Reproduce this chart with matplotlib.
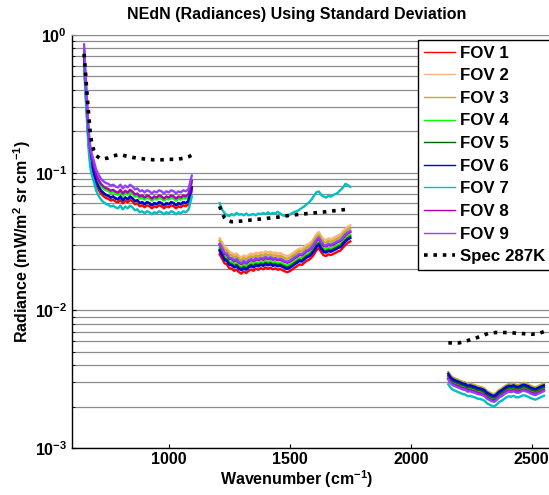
import matplotlib
matplotlib.use("Agg")
import matplotlib.pyplot as plt
import numpy as np
from matplotlib.ticker import LogLocator, FuncFormatter, NullFormatter

plt.rcParams.update({
    'font.family': 'Liberation Sans',
    'font.weight': 'bold',
    'font.size': 11.5,
    'axes.unicode_minus': False,
    'mathtext.fontset': 'custom',
    'mathtext.rm': 'Liberation Sans:bold',
    'mathtext.bf': 'Liberation Sans:bold',
    'mathtext.it': 'Liberation Sans:bold',
    'mathtext.default': 'bf',
})

# ---- data ----
fov_labels = ['FOV 1', 'FOV 2', 'FOV 3', 'FOV 4', 'FOV 5',
              'FOV 6', 'FOV 7', 'FOV 8', 'FOV 9']
fov_colors = ['#ff0000', '#ffb27f', '#c0b020', '#00ff00', '#006400',
              '#0000e0', '#00c0c0', '#b000b0', '#9040ff']

# LW band (typical FOV level)
lw_wn = [650, 655, 660, 665, 670, 675, 680, 690, 700, 710, 720, 730, 740,
         750, 760, 770, 780, 790, 800, 810, 820, 830, 840, 850, 860, 870,
         880, 890, 900, 910, 920, 930, 940, 950, 960, 970, 980, 990, 1000,
         1010, 1020, 1030, 1040, 1050, 1060, 1070, 1080, 1085, 1090, 1095]
lw_level = [0.70, 0.45, 0.32, 0.22, 0.16, 0.13, 0.115, 0.100, 0.086, 0.079,
            0.074, 0.071, 0.069, 0.068, 0.066, 0.067, 0.065, 0.064, 0.067,
            0.063, 0.066, 0.064, 0.067, 0.065, 0.062, 0.063, 0.060, 0.061,
            0.059, 0.061, 0.060, 0.058, 0.060, 0.059, 0.061, 0.060, 0.058,
            0.060, 0.059, 0.061, 0.060, 0.058, 0.060, 0.059, 0.061, 0.060,
            0.062, 0.066, 0.072, 0.078]
lw_fov_scale = [0.95, 1.00, 1.00, 1.08, 1.00, 1.00, 0.86, 1.12, 1.22]

# MW band
mw_wn = [1210, 1220, 1230, 1240, 1250, 1260, 1270, 1280, 1290, 1300, 1310,
         1320, 1330, 1340, 1350, 1360, 1370, 1380, 1390, 1400, 1410, 1420,
         1430, 1440, 1450, 1460, 1470, 1480, 1490, 1500, 1510, 1520, 1530,
         1540, 1550, 1560, 1570, 1580, 1590, 1600, 1610, 1620, 1630, 1640,
         1650, 1660, 1670, 1680, 1690, 1700, 1710, 1720, 1730, 1740, 1750]
mw_level = [0.029, 0.027, 0.025, 0.0245, 0.023, 0.0228, 0.022, 0.0225,
            0.0215, 0.021, 0.0218, 0.0212, 0.022, 0.0225, 0.022, 0.0228,
            0.0224, 0.023, 0.0226, 0.0233, 0.0228, 0.0232, 0.0226, 0.0229,
            0.0224, 0.0227, 0.0222, 0.0218, 0.0215, 0.0219, 0.0225, 0.0232,
            0.0238, 0.0245, 0.0243, 0.0252, 0.026, 0.0265, 0.0275, 0.029,
            0.031, 0.0322, 0.030, 0.0285, 0.0282, 0.029, 0.0286, 0.0292,
            0.0298, 0.0305, 0.031, 0.0325, 0.034, 0.0352, 0.036]
mw_fov7 = [0.060, 0.054, 0.051, 0.049, 0.0485, 0.050, 0.049, 0.051, 0.0495,
           0.050, 0.049, 0.0505, 0.049, 0.0495, 0.050, 0.049, 0.0505, 0.050,
           0.051, 0.050, 0.0515, 0.050, 0.051, 0.0505, 0.052, 0.0505, 0.049,
           0.0485, 0.049, 0.0495, 0.051, 0.052, 0.0525, 0.054, 0.0555, 0.057,
           0.059, 0.061, 0.064, 0.068, 0.072, 0.073, 0.069, 0.067, 0.066,
           0.068, 0.067, 0.069, 0.070, 0.072, 0.075, 0.078, 0.083, 0.081,
           0.079]
mw_fov_scale = [0.88, 1.15, 1.10, 0.98, 0.95, 0.93, None, 1.03, 1.05]

# SW band
sw_wn = [2155, 2165, 2175, 2185, 2195, 2205, 2215, 2225, 2235, 2245, 2255,
         2265, 2275, 2285, 2295, 2305, 2315, 2325, 2335, 2345, 2355, 2365,
         2375, 2385, 2395, 2405, 2415, 2425, 2435, 2445, 2455, 2465, 2475,
         2485, 2495, 2505, 2515, 2525, 2535, 2545, 2550]
sw_level = [0.0033, 0.0031, 0.0030, 0.00295, 0.0029, 0.00285, 0.0028,
            0.00278, 0.0027, 0.00272, 0.00268, 0.00265, 0.0026, 0.00258,
            0.00255, 0.0025, 0.0024, 0.00235, 0.0023, 0.00228, 0.00235,
            0.00245, 0.0025, 0.00258, 0.00265, 0.0027, 0.00268, 0.00272,
            0.00266, 0.00265, 0.0027, 0.00275, 0.00272, 0.00268, 0.00262,
            0.00258, 0.00255, 0.0026, 0.00265, 0.0027, 0.00272]
sw_fov_scale = [0.97, 1.00, 1.08, 1.00, 1.02, 1.05, 0.88, 0.97, 0.95]

# Spec 287K
spec_lw_wn = [650, 655, 660, 665, 670, 675, 680, 690, 700, 715, 730, 750,
              770, 790, 810, 830, 850, 880, 910, 940, 970, 1000, 1030, 1060,
              1080, 1095]
spec_lw = [0.73, 0.56, 0.42, 0.32, 0.25, 0.20, 0.17, 0.145, 0.133, 0.127,
           0.126, 0.128, 0.132, 0.135, 0.134, 0.131, 0.129, 0.127, 0.125,
           0.124, 0.124, 0.125, 0.125, 0.127, 0.130, 0.134]
spec_mw_wn = [1210, 1220, 1230, 1240, 1260, 1300, 1350, 1400, 1450, 1500,
              1550, 1600, 1650, 1700, 1730, 1750]
spec_mw = [0.057, 0.051, 0.047, 0.045, 0.044, 0.0445, 0.0455, 0.0465,
           0.0475, 0.049, 0.050, 0.051, 0.052, 0.0533, 0.054, 0.0557]
spec_sw_wn = [2155, 2200, 2230, 2260, 2290, 2320, 2350, 2400, 2450, 2500,
              2530, 2550]
spec_sw = [0.0058, 0.0058, 0.0060, 0.0062, 0.0065, 0.0068, 0.0069, 0.0069,
           0.0068, 0.0067, 0.0068, 0.0070]

# ---- figure ----
W, H = 549, 495
fig = plt.figure(figsize=(W / 100, H / 100), dpi=100)
ax = fig.add_axes([72 / W, 1 - 448 / H, (556 - 72) / W, (448 - 35) / H])

for i in range(9):
    lw_y = np.array(lw_level) * lw_fov_scale[i]
    if mw_fov_scale[i] is None:
        mw_y = np.array(mw_fov7)
    else:
        mw_y = np.array(mw_level) * mw_fov_scale[i]
    sw_y = np.array(sw_level) * sw_fov_scale[i]
    ax.plot(lw_wn, lw_y, color=fov_colors[i], lw=1.7, label=fov_labels[i])
    ax.plot(mw_wn, mw_y, color=fov_colors[i], lw=1.7)
    ax.plot(sw_wn, sw_y, color=fov_colors[i], lw=1.7)

spec_style = dict(color='black', lw=2.6, linestyle=(0, (1, 1.6)))
ax.plot(spec_lw_wn, spec_lw, label='Spec 287K', **spec_style)
ax.plot(spec_mw_wn, spec_mw, **spec_style)
ax.plot(spec_sw_wn, spec_sw, **spec_style)

ax.set_yscale('log')
ax.set_ylim(1e-3, 1)
ax.set_xlim(600, 2600)
ax.set_xticks([1000, 1500, 2000, 2500])
ax.yaxis.set_major_locator(LogLocator(base=10, numticks=10))
ax.yaxis.set_minor_locator(LogLocator(base=10, subs=np.arange(2, 10), numticks=20))
ax.yaxis.set_major_formatter(FuncFormatter(lambda v, p: r'$10^{%d}$' % round(np.log10(v))))
ax.yaxis.set_minor_formatter(NullFormatter())
ax.tick_params(axis='both', direction='in', length=3, width=0.8, labelsize=11.5)
ax.tick_params(axis='y', which='minor', direction='in', length=2)
ax.tick_params(axis='x', pad=3)

ax.yaxis.grid(True, which='both', color='#8c8c8c', lw=0.9)
ax.set_axisbelow(True)
ax.spines['top'].set_color('#8c8c8c')
for s in ['left', 'bottom']:
    ax.spines[s].set_linewidth(1.0)

ax.set_xlabel('Wavenumber (cm$^{-1}$)', fontsize=11.5, fontweight='bold')
ax.xaxis.set_label_coords((297 - 72) / (556 - 72), -0.05)
ax.set_ylabel('Radiance (mW/m$^{2}$ sr cm$^{-1}$)', fontsize=11.5, fontweight='bold')
ax.yaxis.set_label_coords(-0.08, 0.5)

fig.text(297 / W, 1 - 15 / H, 'NEdN (Radiances) Using Standard Deviation',
         ha='center', va='center', fontsize=11.5, fontweight='bold')

leg = ax.legend(loc='upper left', bbox_to_anchor=(418 / W, 1 - 40 / H),
                bbox_transform=fig.transFigure, fancybox=False,
                edgecolor='black', framealpha=1, handlelength=1.85,
                labelspacing=0.45, borderpad=0.33, borderaxespad=0,
                handletextpad=0.3, prop={'weight': 'bold', 'size': 12.2})
leg.get_frame().set_linewidth(1.0)
for h in leg.get_lines()[:9]:
    h.set_linewidth(1.0)

fig.savefig('out.png', dpi=100)
